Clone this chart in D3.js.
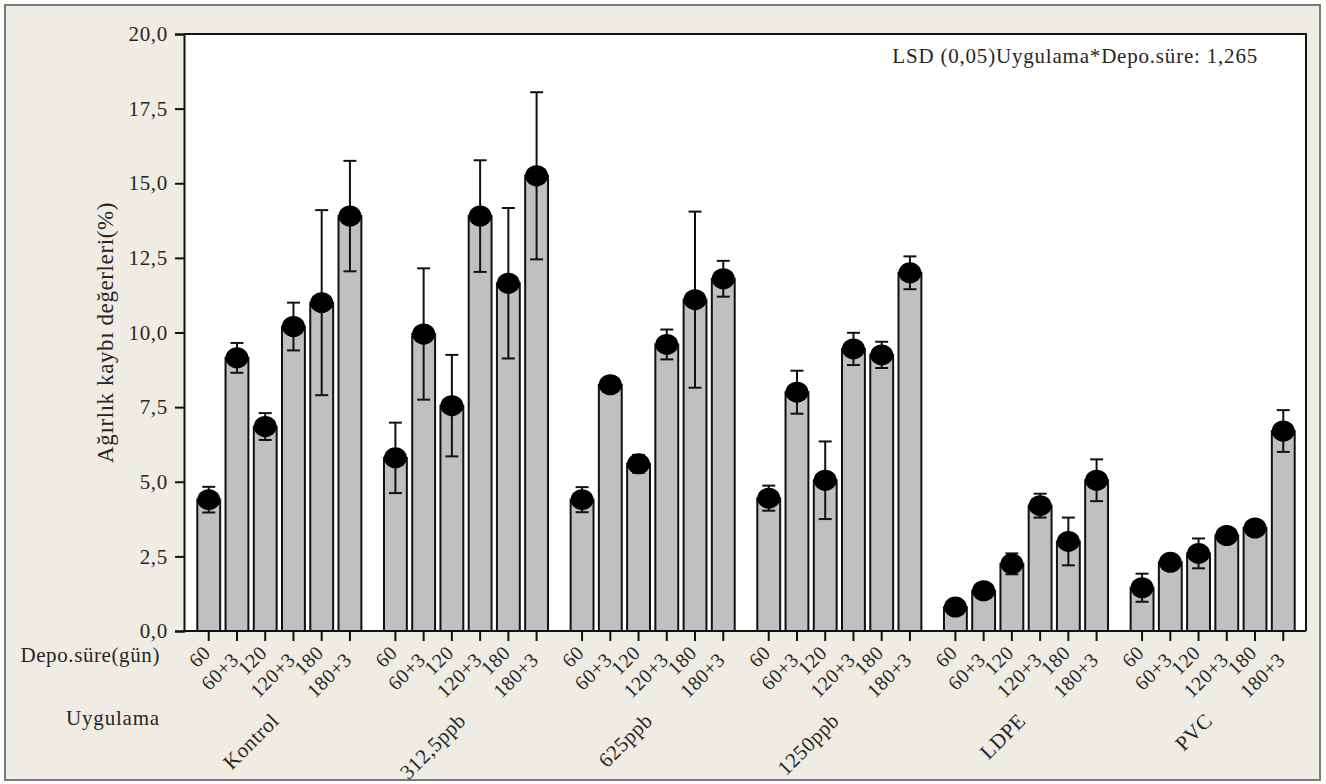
<!DOCTYPE html>
<html>
<head>
<meta charset="utf-8">
<script src="https://cdn.jsdelivr.net/npm/d3@7"></script>
<style>
  html, body { margin: 0; padding: 0; background: #ffffff; }
  svg { display: block; }
</style>
</head>
<body>
<script>
// Treatment groups and storage periods
const groups = ["Kontrol", "312,5ppb", "625ppb", "1250ppb", "LDPE", "PVC"];
const periods = ["60", "60+3", "120", "120+3", "180", "180+3"];

// Mean weight loss (%) per group, one value per storage period
const kontrolMean = [4.4, 9.15, 6.85, 10.2, 11.0, 13.9];
const ppb312Mean  = [5.8, 9.95, 7.55, 13.9, 11.65, 15.25];
const ppb625Mean  = [4.4, 8.25, 5.6, 9.6, 11.1, 11.8];
const ppb1250Mean = [4.45, 8.0, 5.05, 9.45, 9.25, 12.0];
const ldpeMean    = [0.8, 1.35, 2.25, 4.2, 3.0, 5.05];
const pvcMean     = [1.45, 2.3, 2.6, 3.2, 3.45, 6.7];

// Half-width of the error bars
const kontrolErr = [0.43, 0.5, 0.45, 0.8, 3.1, 1.85];
const ppb312Err  = [1.18, 2.2, 1.7, 1.87, 2.52, 2.8];
const ppb625Err  = [0.42, 0.12, 0.3, 0.5, 2.95, 0.6];
const ppb1250Err = [0.42, 0.72, 1.3, 0.54, 0.44, 0.55];
const ldpeErr    = [0.1, 0.15, 0.35, 0.4, 0.8, 0.7];
const pvcErr     = [0.47, 0.12, 0.5, 0.12, 0.15, 0.7];

const yTicks = [0, 2.5, 5, 7.5, 10, 12.5, 15, 17.5, 20];
const lsdText = "LSD (0,05)Uygulama*Depo.süre: 1,265";
const yTitle = "Ağırlık kaybı değerleri(%)";
const periodTitle = "Depo.süre(gün)";
const groupTitle = "Uygulama";

const means = [kontrolMean, ppb312Mean, ppb625Mean, ppb1250Mean, ldpeMean, pvcMean];
const errs = [kontrolErr, ppb312Err, ppb625Err, ppb1250Err, ldpeErr, pvcErr];

const rows = [];
groups.forEach((g, gi) => periods.forEach((p, pi) => {
  rows.push({ group: g, period: p, pi, value: means[gi][pi], err: errs[gi][pi] });
}));

const W = 1326, H = 784;
const plot = { left: 184, right: 1306, top: 34, bottom: 631 };
const FONT = "'Liberation Serif', 'Times New Roman', Times, serif";
const INK = "#262626";

const svg = d3.select("body").append("svg").attr("width", W).attr("height", H)
  .style("font-family", FONT);

// Page background and frame
svg.append("rect").attr("x", 0).attr("y", 0).attr("width", W).attr("height", H).attr("fill", "#ffffff");
svg.append("rect").attr("x", 5).attr("y", 5).attr("width", 1315).attr("height", 775)
  .attr("fill", "#EFECE4").attr("stroke", "#7a7a7a").attr("stroke-width", 2);

// Plot area
svg.append("rect").attr("x", plot.left).attr("y", plot.top)
  .attr("width", plot.right - plot.left).attr("height", plot.bottom - plot.top)
  .attr("fill", "#ffffff");

const x0 = d3.scaleBand().domain(groups).range([186, 1306]).paddingInner(0).paddingOuter(0);
const x1 = d3.scaleBand().domain(periods).range([0, x0.bandwidth()]).paddingInner(0.19).paddingOuter(0.4);
const y = d3.scaleLinear().domain([0, 20]).range([plot.bottom, plot.top]);

const cx = d => x0(d.group) + x1(d.period) + x1.bandwidth() / 2;

// Bars
svg.append("g").selectAll("rect").data(rows).join("rect")
  .attr("x", d => x0(d.group) + x1(d.period))
  .attr("y", d => y(d.value))
  .attr("width", x1.bandwidth())
  .attr("height", d => y(0) - y(d.value))
  .attr("fill", "#C0C0C0")
  .attr("stroke", "#111")
  .attr("stroke-width", 2);

// Error bars
const eb = svg.append("g").attr("stroke", "#111").attr("stroke-width", 2);
eb.selectAll("line.v").data(rows).join("line").attr("class", "v")
  .attr("x1", cx).attr("x2", cx)
  .attr("y1", d => y(d.value + d.err)).attr("y2", d => y(d.value - d.err));
eb.selectAll("line.t").data(rows).join("line").attr("class", "t")
  .attr("x1", d => cx(d) - 6.5).attr("x2", d => cx(d) + 6.5)
  .attr("y1", d => y(d.value + d.err)).attr("y2", d => y(d.value + d.err));
eb.selectAll("line.b").data(rows).join("line").attr("class", "b")
  .attr("x1", d => cx(d) - 6.5).attr("x2", d => cx(d) + 6.5)
  .attr("y1", d => y(d.value - d.err)).attr("y2", d => y(d.value - d.err));

// Mean markers
svg.append("g").selectAll("ellipse").data(rows).join("ellipse")
  .attr("cx", cx).attr("cy", d => y(d.value))
  .attr("rx", 11.5).attr("ry", 10.5)
  .attr("fill", "#000");

// Plot border (top and right)
svg.append("path")
  .attr("d", `M${plot.left},${plot.top}H${plot.right}V${plot.bottom}`)
  .attr("fill", "none").attr("stroke", "#111").attr("stroke-width", 2);

// Y axis
const yAxis = svg.append("g").attr("transform", `translate(${plot.left},0)`)
  .call(d3.axisLeft(y).tickValues(yTicks).tickSize(9).tickPadding(7)
    .tickFormat(d => d3.format(".1f")(d).replace(".", ",")));
yAxis.attr("font-family", null).attr("font-size", null);
yAxis.select(".domain").attr("stroke", "#111").attr("stroke-width", 2);
yAxis.selectAll(".tick line").attr("stroke", "#111").attr("stroke-width", 2);
yAxis.selectAll(".tick text").attr("font-size", 21).attr("letter-spacing", 0.7)
  .style("font-family", FONT).attr("fill", INK);

// X axis baseline and period ticks
svg.append("line").attr("x1", plot.left).attr("x2", plot.right)
  .attr("y1", plot.bottom).attr("y2", plot.bottom)
  .attr("stroke", "#111").attr("stroke-width", 2);
svg.append("g").selectAll("line").data(rows).join("line")
  .attr("x1", cx).attr("x2", cx)
  .attr("y1", plot.bottom).attr("y2", plot.bottom + 10)
  .attr("stroke", "#111").attr("stroke-width", 2);

// Period labels (rotated, staggered)
svg.append("g").selectAll("text").data(rows).join("text")
  .attr("transform", d => `translate(${cx(d) + 3},${d.pi % 2 ? 661 : 654}) rotate(-45)`)
  .attr("text-anchor", "end")
  .attr("font-size", 20).attr("letter-spacing", 0.5).attr("fill", INK)
  .text(d => d.period);

// Group labels
svg.append("g").selectAll("text").data(groups).join("text")
  .attr("transform", g => `translate(${x0(g) + x0.bandwidth() / 2 + 1},722) rotate(-45)`)
  .attr("text-anchor", "end")
  .attr("font-size", 21).attr("letter-spacing", 0.5).attr("fill", INK)
  .text(g => g);

// Row titles
svg.append("text").attr("x", 160).attr("y", 662).attr("text-anchor", "end")
  .attr("font-size", 21).attr("letter-spacing", 0.6).attr("fill", INK).text(periodTitle);
svg.append("text").attr("x", 160).attr("y", 725).attr("text-anchor", "end")
  .attr("font-size", 21).attr("letter-spacing", 0.8).attr("fill", INK).text(groupTitle);

// Y axis title
svg.append("text")
  .attr("transform", `translate(113,${(plot.top + plot.bottom) / 2}) rotate(-90)`)
  .attr("text-anchor", "middle").attr("font-size", 23).attr("letter-spacing", 0.6).attr("fill", INK)
  .text(yTitle);

// LSD note
svg.append("text").attr("x", 1258).attr("y", 63).attr("text-anchor", "end")
  .attr("font-size", 21).attr("letter-spacing", 0.8).attr("fill", INK).text(lsdText);
</script>
</body>
</html>
